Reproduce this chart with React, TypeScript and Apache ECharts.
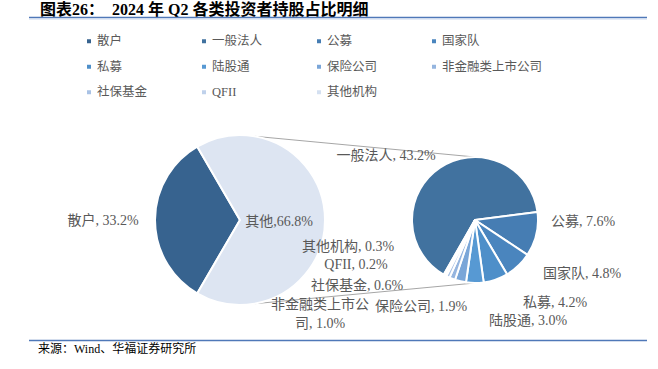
import React, { useEffect, useRef } from "react";
import * as echarts from "echarts";

const mainNames = ["散户", "其他"];
const mainValues = [33.2, 66.8];
const subNames = ["一般法人", "公募", "国家队", "私募", "陆股通", "保险公司", "非金融类上市公司", "社保基金", "QFII", "其他机构"];
const subValues = [43.2, 7.6, 4.8, 4.2, 3.0, 1.9, 1.0, 0.6, 0.2, 0.3];
const legendNames = ["散户", "一般法人", "公募", "国家队", "私募", "陆股通", "保险公司", "非金融类上市公司", "社保基金", "QFII", "其他机构"];

const colors: Record<string, string> = {
  "散户": "#37638f",
  "其他": "#dde5f2",
  "一般法人": "#41729f",
  "公募": "#467db3",
  "国家队": "#4a85be",
  "私募": "#4e8fc9",
  "陆股通": "#5799d3",
  "保险公司": "#7aa6d8",
  "非金融类上市公司": "#95b5df",
  "社保基金": "#a9c2e5",
  "QFII": "#bfd1eb",
  "其他机构": "#d4e0f1",
};

// label anchor positions (centre of the text block)
const labelPos: Record<string, [number, number]> = {
  "散户": [103, 220],
  "其他": [279, 221],
  "一般法人": [386, 155],
  "公募": [583, 221],
  "国家队": [582, 273],
  "私募": [555, 302],
  "陆股通": [528, 320],
  "保险公司": [421, 306],
  "非金融类上市公司": [320, 314],
  "社保基金": [357, 285],
  "QFII": [356, 264],
  "其他机构": [348, 246],
};

const FONT = "'Liberation Serif', 'Noto Sans CJK SC', serif";
const LABEL_COLOR = "#595959";

export default function App() {
  const ref = useRef<HTMLDivElement>(null);
  useEffect(() => {
    if (!ref.current) return;
    const chart = echarts.init(ref.current, undefined, { renderer: "svg" });

    const lc: [number, number] = [240, 220];
    const lr = 85;
    const rc: [number, number] = [475, 220];
    const rr = 63;
    const a = (80 * Math.PI) / 180;

    const legends = legendNames.map((n, i) => ({
      data: [n],
      left: 80 + (i % 4) * 115,
      top: 30 + Math.floor(i / 4) * 25.5,
      icon: "rect",
      itemWidth: 6,
      itemHeight: 6,
      selectedMode: false,
      textStyle: { fontSize: 12.5, color: LABEL_COLOR, fontFamily: FONT },
    }));

    const labelLayout = (p: any) => {
      const name = p.seriesIndex === 0 ? mainNames[p.dataIndex] : subNames[p.dataIndex];
      const pos = labelPos[name];
      if (!pos) return {};
      return { x: pos[0], y: pos[1], align: "center", verticalAlign: "middle", hideOverlap: false };
    };

    chart.setOption({
      animation: false,
      legend: legends,
      graphic: [
        { type: "text", left: 40, top: 1, style: { text: "图表26：  2024 年 Q2 各类投资者持股占比明细", font: `bold 16px ${FONT}`, fill: "#000" } },
        { type: "line", shape: { x1: 29, y1: 17.5, x2: 647, y2: 17.5 }, style: { stroke: "#4f78b8", lineWidth: 1.5 } },
        { type: "line", shape: { x1: 29, y1: 19, x2: 647, y2: 19 }, style: { stroke: "#c9d7ee", lineWidth: 1 } },
        { type: "line", shape: { x1: 29, y1: 340.5, x2: 647, y2: 340.5 }, style: { stroke: "#4f78b8", lineWidth: 1.5 } },
        { type: "text", left: 38, top: 343, style: { text: "来源：Wind、华福证券研究所", font: `12px ${FONT}`, fill: "#000" } },
        { type: "line", shape: { x1: lc[0] + lr * Math.cos(a), y1: lc[1] - lr * Math.sin(a), x2: rc[0], y2: rc[1] - rr }, style: { stroke: "#a6a6a6", lineWidth: 1 } },
        { type: "line", shape: { x1: lc[0] + lr * Math.cos(a), y1: lc[1] + lr * Math.sin(a), x2: rc[0], y2: rc[1] + rr }, style: { stroke: "#a6a6a6", lineWidth: 1 } },
      ],
      series: [
        {
          type: "pie",
          center: lc,
          radius: [0, lr],
          startAngle: 239.76,
          clockwise: true,
          avoidLabelOverlap: false,
          itemStyle: { borderColor: "#fff", borderWidth: 2 },
          label: {
            show: true,
            position: "outside",
            fontSize: 14,
            color: LABEL_COLOR,
            fontFamily: FONT,
            formatter: (p: any) => (p.name === "其他" ? `${p.name},${p.value}%` : `${p.name}, ${p.value}%`),
          },
          labelLine: { show: false },
          labelLayout,
          emphasis: { disabled: true },
          data: mainNames.map((n, i) => ({ name: n, value: mainValues[i], itemStyle: { color: colors[n] } })),
        },
        {
          type: "pie",
          center: rc,
          radius: [0, rr],
          startAngle: 240.2,
          clockwise: true,
          avoidLabelOverlap: false,
          itemStyle: { borderColor: "#fff", borderWidth: 2 },
          label: {
            show: true,
            position: "outside",
            fontSize: 14,
            lineHeight: 19,
            color: LABEL_COLOR,
            fontFamily: FONT,
            formatter: (p: any) => (p.name === "非金融类上市公司" ? `非金融类上市公\n司, ${p.value.toFixed(1)}%` : `${p.name}, ${p.value.toFixed(1)}%`),
          },
          labelLine: { show: false },
          labelLayout,
          emphasis: { disabled: true },
          data: subNames.map((n, i) => ({ name: n, value: subValues[i], itemStyle: { color: colors[n] } })),
        },
      ],
    });
    return () => chart.dispose();
  }, []);
  return <div ref={ref} style={{ position: "fixed", left: 0, top: 0, width: 658, height: 369, background: "#fff" }} />;
}
